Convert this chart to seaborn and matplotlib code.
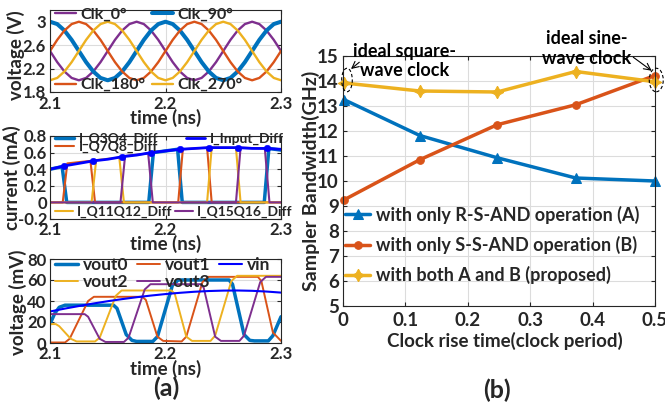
import numpy as np
import matplotlib
matplotlib.use("Agg")
import matplotlib.pyplot as plt
import seaborn as sns
from matplotlib.patches import Ellipse

sns.set_theme(style="white")
plt.rcParams["font.family"] = ["Lato", "DejaVu Sans"]
plt.rcParams["font.weight"] = "bold"
plt.rcParams["axes.labelweight"] = "bold"

BLUE = "#0072BD"; ORANGE = "#D95319"; YELLOW = "#EDB120"; PURPLE = "#7E2F8E"; VIN = "#0000FF"
TXT = "#262626"

# ---------------- (a) top: clocks ----------------
clk_t = np.linspace(2.1, 2.3, 33)
clk_0 = [2.50, 2.31, 2.15, 2.04, 2.00, 2.04, 2.15, 2.31, 2.50, 2.69, 2.85, 2.96, 3.00, 2.96, 2.85, 2.69,
         2.50, 2.31, 2.15, 2.04, 2.00, 2.04, 2.15, 2.31, 2.50, 2.69, 2.85, 2.96, 3.00, 2.96, 2.85, 2.69, 2.50]
clk_90 = [3.00, 2.96, 2.85, 2.69, 2.50, 2.31, 2.15, 2.04, 2.00, 2.04, 2.15, 2.31, 2.50, 2.69, 2.85, 2.96,
          3.00, 2.96, 2.85, 2.69, 2.50, 2.31, 2.15, 2.04, 2.00, 2.04, 2.15, 2.31, 2.50, 2.69, 2.85, 2.96, 3.00]
clk_180 = [2.50, 2.69, 2.85, 2.96, 3.00, 2.96, 2.85, 2.69, 2.50, 2.31, 2.15, 2.04, 2.00, 2.04, 2.15, 2.31,
           2.50, 2.69, 2.85, 2.96, 3.00, 2.96, 2.85, 2.69, 2.50, 2.31, 2.15, 2.04, 2.00, 2.04, 2.15, 2.31, 2.50]
clk_270 = [2.00, 2.04, 2.15, 2.31, 2.50, 2.69, 2.85, 2.96, 3.00, 2.96, 2.85, 2.69, 2.50, 2.31, 2.15, 2.04,
           2.00, 2.04, 2.15, 2.31, 2.50, 2.69, 2.85, 2.96, 3.00, 2.96, 2.85, 2.69, 2.50, 2.31, 2.15, 2.04, 2.00]

# ---------------- (a) middle: currents ----------------
iq34_t = [2.100, 2.1105, 2.1145, 2.1855, 2.1895, 2.2105, 2.2145, 2.2855, 2.2895, 2.300]
iq34 = [0.40, 0.43, 0.00, 0.00, 0.60, 0.64, 0.00, 0.00, 0.65, 0.63]
iq78_t = [2.100, 2.111, 2.115, 2.135, 2.139, 2.211, 2.215, 2.236, 2.240, 2.300]
iq78 = [0.00, 0.00, 0.47, 0.50, 0.00, 0.00, 0.64, 0.66, 0.00, 0.00]
iq1112_t = [2.100, 2.136, 2.140, 2.160, 2.164, 2.236, 2.240, 2.261, 2.265, 2.300]
iq1112 = [0.00, 0.00, 0.51, 0.54, 0.00, 0.00, 0.66, 0.66, 0.00, 0.00]
iq1516_t = [2.100, 2.161, 2.165, 2.185, 2.189, 2.261, 2.265, 2.286, 2.290, 2.300]
iq1516 = [0.00, 0.00, 0.56, 0.59, 0.00, 0.00, 0.66, 0.65, 0.00, 0.00]
iin_t = [2.100, 2.1125, 2.125, 2.1375, 2.150, 2.1625, 2.175, 2.1875, 2.200,
         2.2125, 2.225, 2.2375, 2.250, 2.2625, 2.275, 2.2875, 2.300]
iin = [0.40, 0.44, 0.47, 0.50, 0.52, 0.55, 0.57, 0.60, 0.62, 0.64, 0.65, 0.66, 0.66, 0.66, 0.65, 0.65, 0.64]
iin_mark_t = [2.1125, 2.1375, 2.1625, 2.1875, 2.2125, 2.2375, 2.2625, 2.2875]
iin_mark = [0.44, 0.50, 0.55, 0.60, 0.64, 0.66, 0.66, 0.65]

# ---------------- (a) bottom: voltages ----------------
vout0_t = [2.100, 2.104, 2.108, 2.113, 2.155, 2.158, 2.166, 2.171, 2.175, 2.189, 2.193, 2.206, 2.211,
           2.255, 2.258, 2.268, 2.273, 2.277, 2.289, 2.293, 2.300]
vout0 = [18, 28, 34, 36, 36, 33, 8, 2.5, 1.5, 1.5, 6, 55, 60, 60, 56, 8, 2.5, 2, 2, 7, 25]
vout1_t = [2.100, 2.113, 2.117, 2.133, 2.138, 2.180, 2.183, 2.193, 2.198, 2.214, 2.218, 2.232, 2.237,
           2.280, 2.283, 2.293, 2.300]
vout1 = [0.5, 0.5, 4, 40, 44, 44, 41, 6, 2, 1.5, 6, 58, 63, 63, 59, 10, 2]
vout2_t = [2.100, 2.105, 2.108, 2.118, 2.123, 2.139, 2.143, 2.157, 2.162, 2.205, 2.208, 2.218, 2.223,
           2.239, 2.243, 2.257, 2.262, 2.300]
vout2 = [18, 18, 16, 4, 1.5, 1.5, 5, 45, 50, 50, 47, 6, 2, 2, 7, 59, 64, 64]
vout3_t = [2.100, 2.130, 2.133, 2.143, 2.148, 2.164, 2.168, 2.182, 2.187, 2.230, 2.233, 2.243, 2.248,
           2.264, 2.268, 2.282, 2.287, 2.300]
vout3 = [27.5, 27.5, 25, 4, 1, 1, 5, 51, 56, 56, 53, 6, 2, 2, 7, 58, 63, 63]
vin_t = [2.100, 2.1125, 2.125, 2.1375, 2.150, 2.1625, 2.175, 2.1875, 2.200,
         2.2125, 2.225, 2.2375, 2.250, 2.2625, 2.275, 2.2875, 2.300]
vin = [30, 32.7, 35.2, 37.6, 39.8, 41.8, 43.6, 45.2, 46.6, 47.8, 48.8, 49.5, 49.9, 50, 49.7, 49, 48]

# ---------------- (b) bandwidth ----------------
rise = [0.002, 0.123, 0.247, 0.373, 0.500]
bw_A = [13.25, 11.82, 10.93, 10.12, 10.00]
bw_B = [9.25, 10.85, 12.25, 13.05, 14.22]
bw_C = [13.92, 13.60, 13.56, 14.38, 13.97]

W, H = 665, 407
fig = plt.figure(figsize=(W / 100, H / 100), dpi=100)


def rect(x0, y0, x1, y1):
    return [x0 / W, 1 - y1 / H, (x1 - x0) / W, (y1 - y0) / H]


def fx(px):
    return px / W


def fy(py):
    return 1 - py / H


def style(ax, tick_fs, pad=3.0):
    for s in ax.spines.values():
        s.set_color(TXT)
        s.set_linewidth(0.8)
        s.set_visible(True)
    ax.tick_params(direction="in", length=3, width=0.8, colors=TXT, labelsize=tick_fs,
                   top=True, right=True, bottom=True, left=True, pad=pad)
    ax.grid(True, color="#DCDCDC", lw=0.8)
    ax.set_axisbelow(True)
    for lab in ax.get_xticklabels() + ax.get_yticklabels():
        lab.set_fontweight("bold")


def line(ax, x, y, color, lw, **kw):
    sns.lineplot(x=x, y=y, ax=ax, color=color, lw=lw, estimator=None, sort=False, legend=False, **kw)
    return ax.lines[-1]


LFS = 11.5
MFS = 10.0
TFS = 12

# ---------- top panel ----------
ax1 = fig.add_axes(rect(50, 10, 281, 92))
h0 = line(ax1, clk_t, clk_0, PURPLE, 1.7)
h90 = line(ax1, clk_t, clk_90, BLUE, 2.9)
h180 = line(ax1, clk_t, clk_180, ORANGE, 1.7)
h270 = line(ax1, clk_t, clk_270, YELLOW, 1.7)
ax1.set_xlim(2.1, 2.3)
ax1.set_ylim(1.8, 3.2)
ax1.set_xticks([2.1, 2.2, 2.3], ["2.1", "2.2", "2.3"])
ax1.set_yticks([1.8, 2.2, 2.6, 3.0], ["1.8", "2.2", "2.6", "3"])
style(ax1, TFS)
ax1.legend(handles=[h0, h180, h90, h270], labels=["Clk_0°", "Clk_180°", "Clk_90°", "Clk_270°"],
           ncol=2, frameon=False, loc="center left", bbox_to_anchor=(fx(55), fy(50)),
           bbox_transform=fig.transFigure, borderpad=0, borderaxespad=0, labelspacing=3.5,
           handlelength=1.3, handletextpad=0.3, columnspacing=0.4,
           prop={"size": LFS, "weight": "bold"})

# ---------- middle panel ----------
ax2 = fig.add_axes(rect(50, 136, 281, 219))
hq34 = line(ax2, iq34_t, iq34, BLUE, 2.5)
hq78 = line(ax2, iq78_t, iq78, ORANGE, 1.5)
hq1112 = line(ax2, iq1112_t, iq1112, YELLOW, 1.5)
hq1516 = line(ax2, iq1516_t, iq1516, PURPLE, 1.5)
hin = line(ax2, iin_t, iin, VIN, 2.0)
sns.scatterplot(x=iin_mark_t, y=iin_mark, ax=ax2, color=VIN, s=22, edgecolor=VIN, legend=False, zorder=5)
ax2.set_xlim(2.1, 2.3)
ax2.set_ylim(-0.2, 0.8)
ax2.set_xticks([2.1, 2.2, 2.3], ["2.1", "2.2", "2.3"])
ax2.set_yticks([-0.2, 0, 0.2, 0.4, 0.6, 0.8], ["-0.2", "0", "0.2", "0.4", "0.6", "0.8"])
style(ax2, TFS, pad=2.0)
lg2a = ax2.legend(handles=[hq34, hq78, hin], labels=["I_Q3Q4_Diff", "I_Q7Q8_Diff", "I_Input_Diff"],
                  ncol=2, frameon=False, loc="center left", bbox_to_anchor=(fx(55), fy(143)),
                  bbox_transform=fig.transFigure, borderpad=0, borderaxespad=0, labelspacing=-0.3,
                  handlelength=1.4, handletextpad=0.3, columnspacing=2.0,
                  prop={"size": MFS, "weight": "bold"})
ax2.add_artist(lg2a)
ax2.legend(handles=[hq1112, hq1516], labels=["I_Q11Q12_Diff", "I_Q15Q16_Diff"],
           ncol=2, frameon=False, loc="center left", bbox_to_anchor=(fx(55), fy(212)),
           bbox_transform=fig.transFigure, borderpad=0, borderaxespad=0,
           handlelength=1.3, handletextpad=0.3, columnspacing=0.15,
           prop={"size": MFS, "weight": "bold"})

# ---------- bottom panel ----------
ax3 = fig.add_axes(rect(50, 259, 281, 343))
hv0 = line(ax3, vout0_t, vout0, BLUE, 2.5)
hv1 = line(ax3, vout1_t, vout1, ORANGE, 1.4)
hv2 = line(ax3, vout2_t, vout2, YELLOW, 1.4)
hv3 = line(ax3, vout3_t, vout3, PURPLE, 1.4)
hvin = line(ax3, vin_t, vin, VIN, 1.5)
ax3.set_xlim(2.1, 2.3)
ax3.set_ylim(0, 80)
ax3.set_xticks([2.1, 2.2, 2.3], ["2.1", "2.2", "2.3"])
ax3.set_yticks([0, 20, 40, 60, 80], ["0", "20", "40", "60", "80"])
style(ax3, TFS, pad=2.5)
ax3.legend(handles=[hv0, hv2, hv1, hv3, hvin], labels=["vout0", "vout2", "vout1", "vout3", "vin"],
           ncol=3, frameon=False, loc="center left", bbox_to_anchor=(fx(55), fy(273.5)),
           bbox_transform=fig.transFigure, borderpad=0, borderaxespad=0, labelspacing=0.05,
           handlelength=1.3, handletextpad=0.3, columnspacing=0.5,
           prop={"size": 12.5, "weight": "bold"})

AXFS = 13.5
for ax, ylab, ylx, yly, xly in [(ax1, "voltage (V)", 16, 55, 118), (ax2, "current (mA)", 12, 178, 244),
                                (ax3, "voltage (mV)", 18, 302, 369)]:
    fig.text(fx(ylx), fy(yly), ylab, rotation=90, ha="center", va="center", fontsize=AXFS,
             fontweight="bold", color=TXT)
    fig.text(fx(165.5), fy(xly), "time (ns)", ha="center", va="center", fontsize=AXFS,
             fontweight="bold", color=TXT)

fig.text(fx(166), fy(388), "(a)", ha="center", va="center", fontsize=18, fontweight="bold", color=TXT)

# ---------- right panel ----------
axb = fig.add_axes(rect(343, 56, 655, 306))
hA = line(axb, rise, bw_A, BLUE, 2.5, marker="^", markersize=7, markeredgecolor=BLUE, markerfacecolor=BLUE)
hB = line(axb, rise, bw_B, ORANGE, 2.5, marker="o", markersize=5.5, markeredgecolor=ORANGE, markerfacecolor=ORANGE)
hC = line(axb, rise, bw_C, YELLOW, 2.5, marker=(4, 1, 0), markersize=9, markeredgecolor=YELLOW, markerfacecolor=YELLOW)
for h in (hA, hB, hC):
    h.set_clip_on(False)
axb.set_xlim(0, 0.5)
axb.set_ylim(5, 15)
axb.set_xticks([0, 0.1, 0.2, 0.3, 0.4, 0.5], ["0", "0.1", "0.2", "0.3", "0.4", "0.5"])
axb.set_yticks(list(range(5, 16)), [str(v) for v in range(5, 16)])
style(axb, 13.5)
axb.tick_params(axis="x", pad=4)
axb.legend(handles=[hA, hB, hC],
           labels=["with only R-S-AND operation (A)", "with only S-S-AND operation (B)",
                   "with both A and B (proposed)"],
           frameon=False, loc="center left", bbox_to_anchor=(fx(345), fy(245)),
           bbox_transform=fig.transFigure, borderpad=0, borderaxespad=0, labelspacing=0.68,
           handlelength=1.4, handletextpad=0.3, prop={"size": 13, "weight": "bold"})
fig.text(fx(311), fy(181), "Sampler Bandwidth(GHz)", rotation=90, ha="center", va="center",
         fontsize=14, fontweight="bold", color=TXT)
fig.text(fx(505), fy(341), "Clock rise time(clock period)", ha="center", va="center",
         fontsize=13.5, fontweight="bold", color=TXT)
fig.text(fx(497), fy(390), "(b)", ha="center", va="center", fontsize=18, fontweight="bold", color=TXT)

axb.text(0.099, 14.8, "ideal square-\nwave clock", ha="center", va="center", fontsize=13,
         fontweight="bold", color="black", linespacing=1.2, clip_on=False)
axb.text(0.391, 15.3, "ideal sine-\nwave clock", ha="center", va="center", fontsize=13,
         fontweight="bold", color="black", linespacing=1.2, clip_on=False)
axb.annotate("", xy=(0.0128, 14.48), xytext=(0.0261, 14.75),
             arrowprops=dict(arrowstyle="->", lw=0.8, color="black", shrinkA=0, shrinkB=0),
             annotation_clip=False)
axb.annotate("", xy=(0.4947, 14.41), xytext=(0.4652, 14.95),
             arrowprops=dict(arrowstyle="->", lw=0.8, color="black", shrinkA=0, shrinkB=0),
             annotation_clip=False)
for cx, w in [(0.0064, 0.017), (0.502, 0.0224)]:
    e = Ellipse((cx, 14.04), width=w, height=0.94, fill=False, ls=(0, (3, 2)), lw=0.8,
                edgecolor="black", clip_on=False, zorder=6)
    axb.add_patch(e)

fig.savefig("out.png", dpi=100)
